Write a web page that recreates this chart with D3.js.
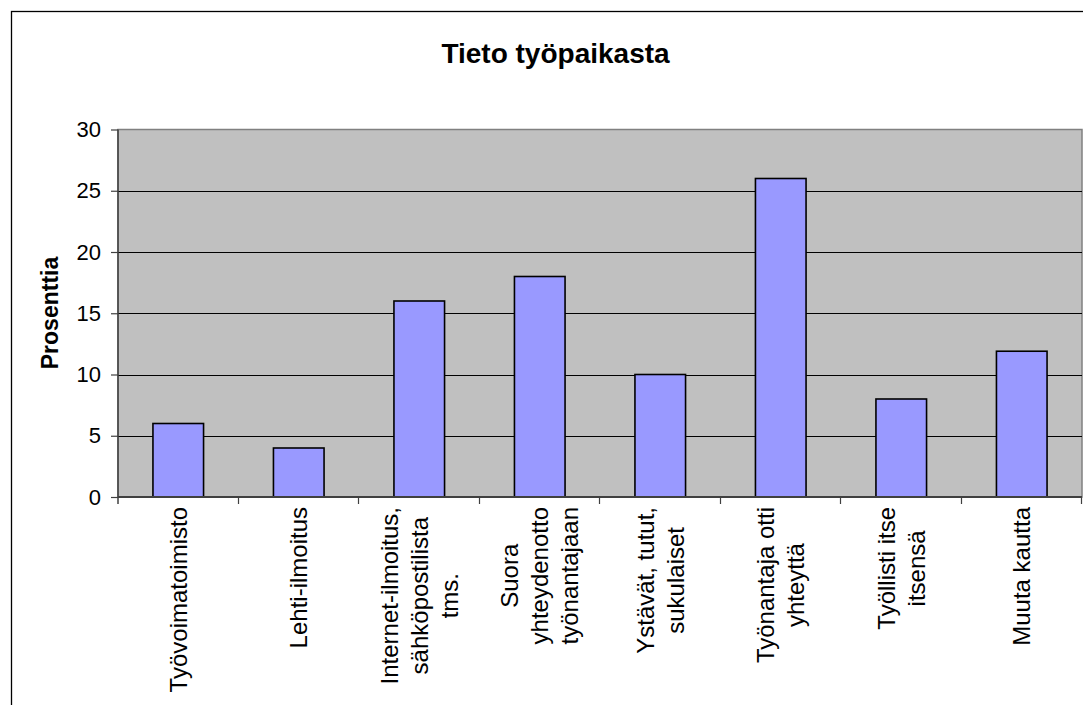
<!DOCTYPE html>
<html>
<head>
<meta charset="utf-8">
<script src="https://cdn.jsdelivr.net/npm/d3@7"></script>
<style>
  body { margin: 0; background: #fff; }
  text { font-family: "Liberation Sans", Arial, sans-serif; fill: #000; }
</style>
</head>
<body>
<div id="chart"></div>
<script>
const width = 1083;
const height = 705;

// data
const categories = [
    ["Työvoimatoimisto"],
    ["Lehti-ilmoitus"],
    ["Internet-ilmoitus,", "sähköpostilista", "tms."],
    ["Suora", "yhteydenotto", "työnantajaan"],
    ["Ystävät, tutut,", "sukulaiset"],
    ["Työnantaja otti", "yhteyttä"],
    ["Työllisti itse", "itsensä"],
    ["Muuta kautta"]
];
const values = [6, 4, 16, 18, 10, 26, 8, 11.9];
const yTicks = [0, 5, 10, 15, 20, 25, 30];

const plot = { left: 118, right: 1082, top: 129.5, bottom: 497 };

const svg = d3.select("#chart").append("svg")
    .attr("width", width)
    .attr("height", height);

// outer chart frame (right/bottom run off the picture)
svg.append("rect")
    .attr("x", 11.5).attr("y", 11.5)
    .attr("width", width + 20).attr("height", height + 20)
    .attr("fill", "#fff")
    .attr("stroke", "#000")
    .attr("stroke-width", 1.3);

const x = d3.scaleBand()
    .domain(d3.range(categories.length))
    .range([plot.left, plot.right]);

const y = d3.scaleLinear()
    .domain([0, 30])
    .range([plot.bottom, plot.top]);

// plot area
svg.append("rect")
    .attr("x", plot.left).attr("y", plot.top)
    .attr("width", plot.right - plot.left)
    .attr("height", plot.bottom - plot.top)
    .attr("fill", "#c0c0c0")
    .attr("stroke", "#808080")
    .attr("stroke-width", 1.5);

// gridlines
svg.append("g")
    .selectAll("line")
    .data(yTicks.filter(d => d > 0 && d < 30))
    .join("line")
    .attr("x1", plot.left).attr("x2", plot.right)
    .attr("y1", d => Math.round(y(d)) + 0.5)
    .attr("y2", d => Math.round(y(d)) + 0.5)
    .attr("stroke", "#000")
    .attr("stroke-width", 1);

// bars
const barW = x.bandwidth() * 0.42;
svg.append("g")
    .selectAll("rect")
    .data(values)
    .join("rect")
    .attr("x", (d, i) => x(i) + (x.bandwidth() - barW) / 2)
    .attr("y", d => y(d))
    .attr("width", barW)
    .attr("height", d => y(0) - y(d))
    .attr("fill", "#9999ff")
    .attr("stroke", "#000")
    .attr("stroke-width", 1.6);

// y axis
const yAxis = svg.append("g")
    .attr("transform", `translate(${plot.left},0)`)
    .call(d3.axisLeft(y).tickValues(yTicks).tickSize(7).tickPadding(10));
yAxis.select(".domain").attr("stroke", "#404040").attr("stroke-width", 1.5)
    .attr("d", `M0,${plot.top}V${plot.bottom + 7}`);
yAxis.selectAll(".tick line").attr("stroke", "#404040").attr("stroke-width", 1.2);
yAxis.selectAll(".tick text")
    .style("font-family", "'Liberation Sans', Arial, sans-serif")
    .style("font-size", "22px")
    .attr("fill", "#000");

// x axis (ticks at category boundaries)
const xAxis = svg.append("g")
    .attr("transform", `translate(0,${plot.bottom})`);
xAxis.append("line")
    .attr("x1", plot.left).attr("x2", plot.right)
    .attr("stroke", "#404040").attr("stroke-width", 1.8);
xAxis.selectAll(".xtick")
    .data(d3.range(1, categories.length + 1))
    .join("line")
    .attr("class", "xtick")
    .attr("x1", i => Math.round(x(i - 1) + x.bandwidth()) - 0.5)
    .attr("x2", i => Math.round(x(i - 1) + x.bandwidth()) - 0.5)
    .attr("y1", 0).attr("y2", 7)
    .attr("stroke", "#404040").attr("stroke-width", 1.2);

// category labels, rotated; lines centred on each other, block top at the axis
const lineH = 30;
const labels = svg.append("g")
    .selectAll("g")
    .data(categories)
    .join("g")
    .attr("transform", (d, i) => `translate(${x(i) + x.bandwidth() / 2},507) rotate(-90)`);
labels.each(function(d) {
    const g = d3.select(this);
    const texts = g.selectAll("text")
        .data(d.map((t, j) => ({ t, off: (j - (d.length - 1) / 2) * lineH })))
        .join("text")
        .attr("y", e => e.off)
        .attr("dy", "0.36em")
        .attr("text-anchor", "middle")
        .style("font-size", "24px")
        .text(e => e.t);
    const maxW = d3.max(texts.nodes(), n => n.getComputedTextLength());
    texts.attr("x", -maxW / 2);
});

// y axis title
svg.append("text")
    .attr("transform", `translate(50,313) rotate(-90)`)
    .attr("text-anchor", "middle")
    .attr("dy", "0.36em")
    .style("font-size", "23px")
    .style("font-weight", "bold")
    .text("Prosenttia");

// chart title
svg.append("text")
    .attr("x", 555.5)
    .attr("y", 63)
    .attr("text-anchor", "middle")
    .style("font-size", "28px")
    .style("font-weight", "bold")
    .text("Tieto työpaikasta");
</script>
</body>
</html>
